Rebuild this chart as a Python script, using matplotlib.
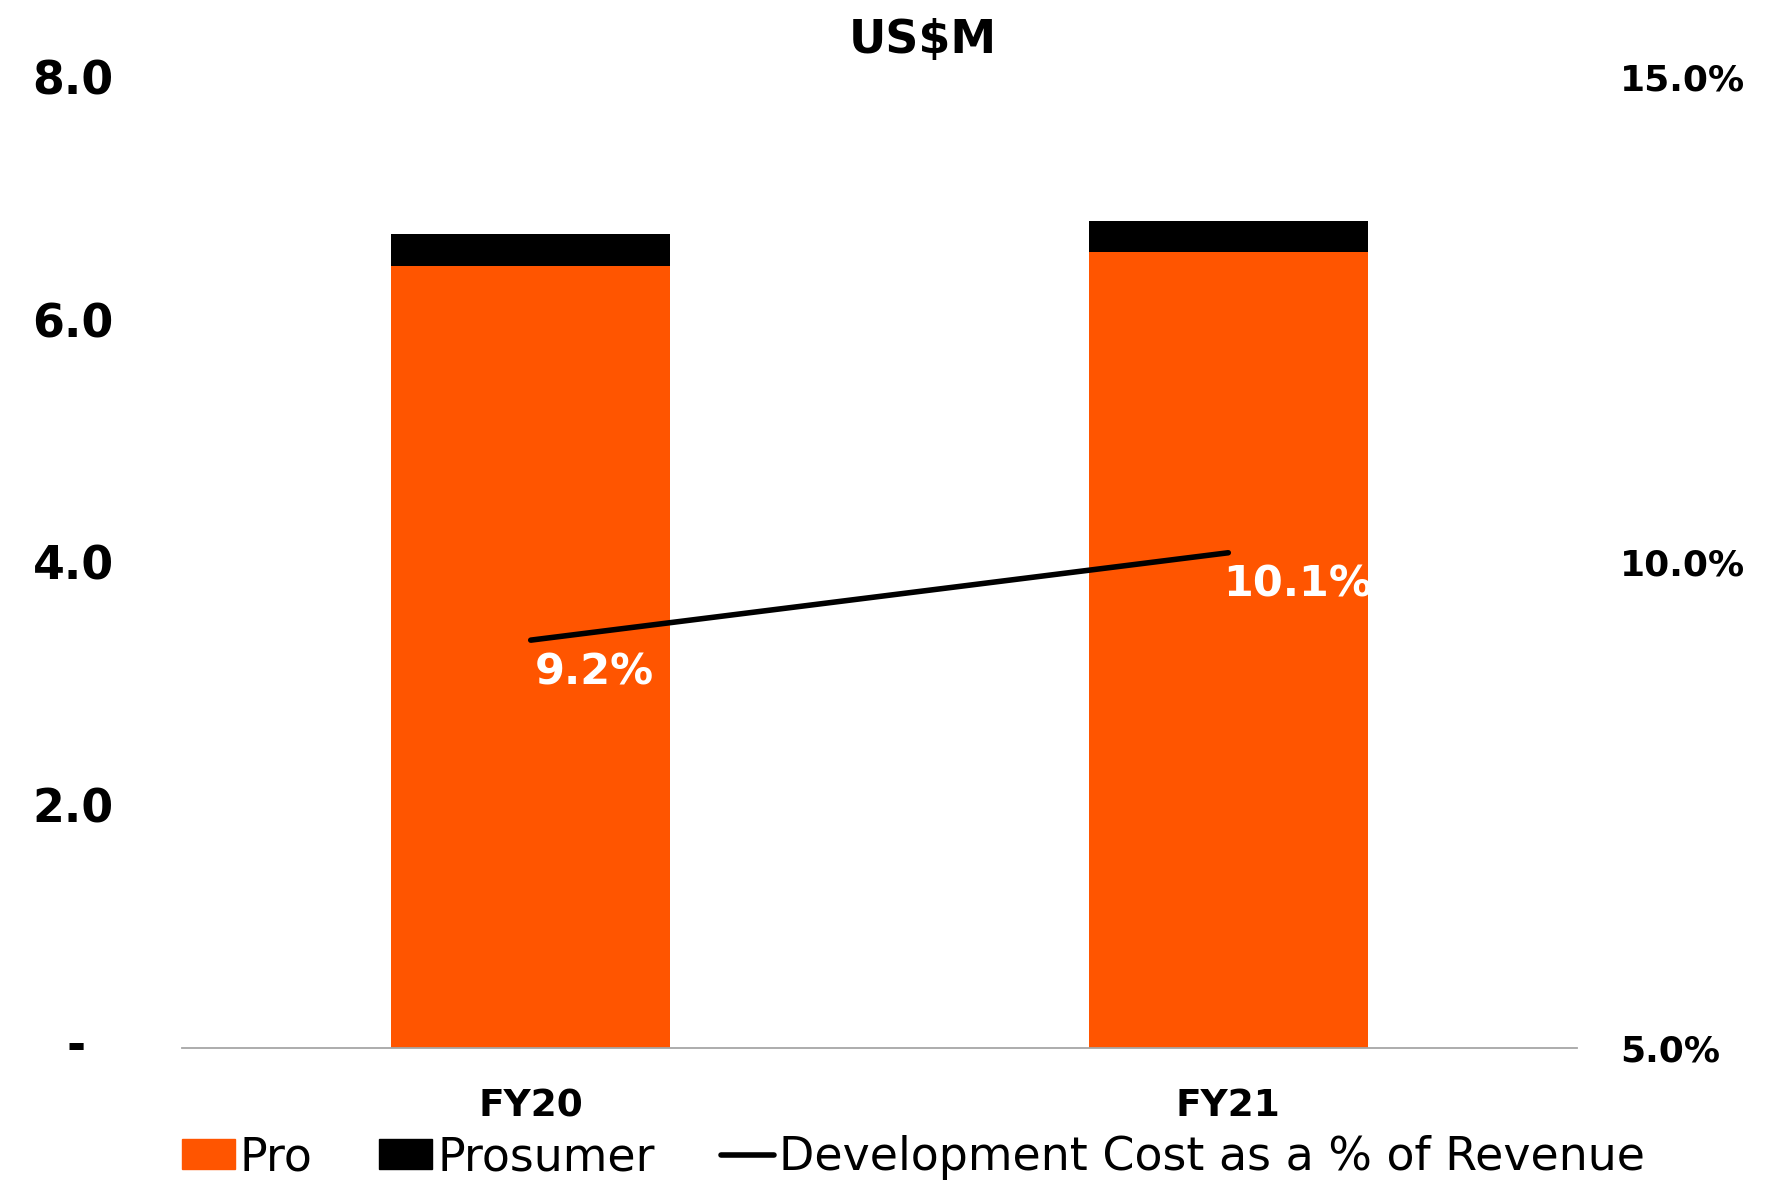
import matplotlib
matplotlib.use('Agg')
import matplotlib.pyplot as plt
from matplotlib.patches import Patch
from matplotlib.lines import Line2D

plt.rcParams['font.family'] = ['DejaVu Sans']

# data
years = ['FY20', 'FY21']
pro = [6.44, 6.56]
prosumer = [0.27, 0.25]
dev_pct = [9.2, 10.1]
left_ticks = [2, 4, 6, 8]
right_ticks = [5, 10, 15]

orange = '#FF5500'

fig = plt.figure(figsize=(17.82, 11.86), dpi=100)
ax = fig.add_axes([0.1021, 0.1164, 0.7829, 0.8187])
x = list(range(len(years)))

ax.bar(x, pro, width=0.40, color=orange, zorder=2)
ax.bar(x, prosumer, width=0.40, bottom=pro, color='black', zorder=2)
ax.set_xlim(-0.5, 1.5)
ax.set_ylim(0, 8)
ax.set_yticks(left_ticks)
ax.set_yticklabels(['%.1f' % t for t in left_ticks], fontsize=33, fontweight='bold')
ax.tick_params(axis='y', length=0, pad=49)
ax.set_xticks(x)
ax.set_xticklabels(years, fontsize=27, fontweight='bold')
ax.tick_params(axis='x', length=0, pad=29)
for s in ['top', 'left', 'right']:
    ax.spines[s].set_visible(False)
ax.spines['bottom'].set_color('#a6a6a6')
ax.spines['bottom'].set_linewidth(1.3)
ax.annotate('-', xy=(0, 0), xycoords=('axes fraction', 'data'),
            xytext=(-69, 0), textcoords='offset points',
            ha='right', va='center', fontsize=33, fontweight='bold')

ax2 = ax.twinx()
ax2.set_ylim(5, 15)
ax2.set_yticks(right_ticks)
ax2.set_yticklabels(['%.1f%%' % t for t in right_ticks], fontsize=26, fontweight='bold')
ax2.tick_params(axis='y', length=0, pad=31)
for s in ax2.spines.values():
    s.set_visible(False)
ax2.plot(x, dev_pct, color='black', linewidth=4, solid_capstyle='round', zorder=3)
offsets = [(3, -23), (-4, -23)]
for xi, v, off in zip(x, dev_pct, offsets):
    ax2.annotate('%.1f%%' % v, xy=(xi, v), xytext=off, textcoords='offset points',
                 ha='left', va='center', color='white', fontsize=31, fontweight='bold')

fig.text(0.518, 0.966, 'US$M', ha='center', va='center', fontsize=33, fontweight='bold')

handles = [Patch(color=orange), Patch(color='black'),
           Line2D([0], [0], color='black', linewidth=4, solid_capstyle='round')]
labels = ['Pro', 'Prosumer', 'Development Cost as a % of Revenue']
fig.legend(handles, labels, loc='center left', bbox_to_anchor=(0.102, 0.024),
           ncol=3, frameon=False, fontsize=33, handlelength=1.16, handleheight=0.61,
           handletextpad=0.11, columnspacing=1.44, borderpad=0, borderaxespad=0)

fig.savefig('out.png', dpi=100)
